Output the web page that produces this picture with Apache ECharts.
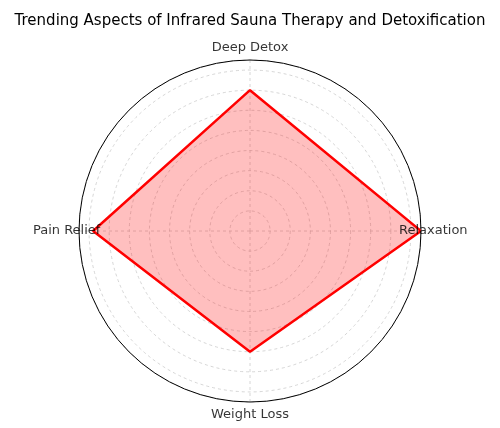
<!DOCTYPE html>
<html>
<head>
<meta charset="utf-8">
<script src="https://cdn.jsdelivr.net/npm/echarts@6/dist/echarts.min.js"></script>
<style>
html, body { margin: 0; padding: 0; background: #fff; }
#chart { width: 500px; height: 428px; }
</style>
</head>
<body>
<div id="chart"></div>
<script>
var categories = ['Relaxation', 'Deep Detox', 'Pain Relief', 'Weight Loss'];
var values = [85, 70, 78, 60];
var radiusMax = 85;

// one point per category, evenly spaced round the circle, then back to the start
var step = 360 / categories.length;
var points = [];
var labelPoints = [];
categories.forEach(function(name, i) {
	points.push([values[i], i * step]);
	// category names sit centred just outside the outer ring, like matplotlib does
	labelPoints.push({
		name : name,
		value : [radiusMax * 1.072, i * step]
	});
});
points.push([values[0], 360]);

var chart = echarts.init(document.getElementById('chart'));
var gridLine = {
	lineStyle : {
		color : '#cccccc',
		type : [ 3, 3 ],
		width : 0.8
	}
};
var option = {
	animation : false,
	textStyle : {
		fontFamily : 'DejaVu Sans'
	},
	title : {
		text : 'Trending Aspects of Infrared Sauna Therapy and Detoxification',
		left : 'center',
		top : 9,
		textStyle : {
			fontFamily : 'DejaVu Sans',
			fontSize : 15,
			fontWeight : 'normal',
			color : '#000'
		}
	},
	polar : {
		center : [ 250, 231 ],
		radius : 171
	},
	angleAxis : {
		type : 'value',
		min : 0,
		max : 360,
		interval : 90,
		startAngle : 0,
		clockwise : false,
		axisLine : {
			lineStyle : {
				color : '#000',
				width : 1
			}
		},
		axisTick : {
			show : false
		},
		axisLabel : {
			show : false
		},
		splitLine : gridLine
	},
	radiusAxis : {
		type : 'value',
		min : 0,
		max : radiusMax,
		interval : 10,
		axisLine : {
			show : false
		},
		axisTick : {
			show : false
		},
		axisLabel : {
			show : false
		},
		splitLine : gridLine
	},
	series : [ {
		type : 'line',
		coordinateSystem : 'polar',
		data : points,
		symbol : 'none',
		lineStyle : {
			color : '#ff0000',
			width : 2.5
		},
		areaStyle : {
			color : '#ff0000',
			opacity : 0.25
		}
	}, {
		type : 'scatter',
		coordinateSystem : 'polar',
		data : labelPoints,
		symbolSize : 1,
		clip : false,
		silent : true,
		z : 5,
		itemStyle : {
			color : 'rgba(0,0,0,0)'
		},
		label : {
			show : true,
			position : 'inside',
			formatter : '{b}',
			fontFamily : 'DejaVu Sans',
			fontSize : 13,
			color : '#000'
		}
	} ]
};
chart.setOption(option);
</script>
</body>
</html>
